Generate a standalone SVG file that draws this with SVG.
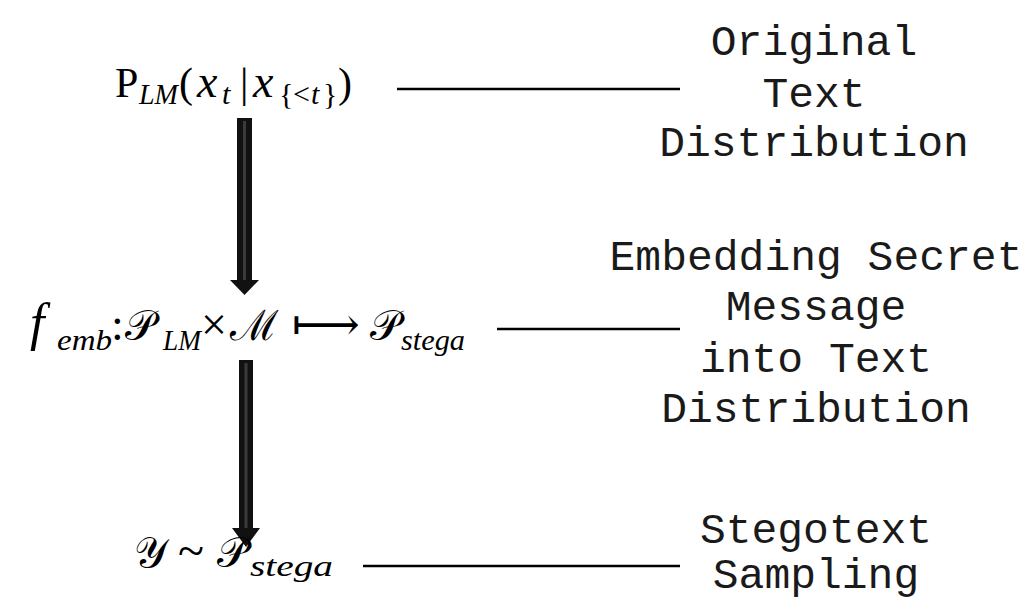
<svg xmlns="http://www.w3.org/2000/svg" width="1031" height="601" viewBox="0 0 1031 601">
<style>
.m{font-family:"Liberation Serif","DejaVu Serif",serif;fill:#000}
.i{font-style:italic}
.s{font-size:30px;font-style:italic}
.u{font-size:30px}
.sc{font-size:42px}
.lbl{font-family:"Liberation Mono","DejaVu Sans Mono",monospace;font-size:43px;fill:#1a1a1a;text-anchor:middle}
.ln{stroke:#000;stroke-width:2.5}
.shaft{fill:#111}
.hl{stroke:#3a3a3a;stroke-width:3}
</style>
<rect width="1031" height="601" fill="#fff"/>
<g id="connectors">
<line class="ln" x1="397" y1="89" x2="680" y2="89"/>
<line class="ln" x1="497" y1="329" x2="680" y2="329"/>
<line class="ln" x1="363" y1="566" x2="680" y2="566"/>
<path class="shaft" d="M237,118 H252 V280 H259 L244.5,295 L230,280 H237 Z"/>
<line class="hl" x1="244.5" y1="121" x2="244.5" y2="280"/>
<path class="shaft" d="M239,360 H253 V528 H260 L246,547 L232,528 H239 Z"/>
<line class="hl" x1="246" y1="363" x2="246" y2="528"/>
</g>
<g id="node-plm">
<text class="m" y="97" font-size="42"><tspan x="115">P</tspan><tspan class="s" x="139" y="104" textLength="39" lengthAdjust="spacingAndGlyphs">LM</tspan><tspan x="179" y="97">(</tspan><tspan class="i" x="197" font-size="46">x</tspan><tspan class="s" x="222" y="104">t</tspan><tspan x="240" y="97">|</tspan><tspan class="i" x="253" font-size="46">x</tspan><tspan class="u" x="279" y="104">{</tspan><tspan class="u" x="293" y="104">&lt;</tspan><tspan class="s" x="311" y="104">t</tspan><tspan class="u" x="323" y="104">}</tspan><tspan x="338" y="97">)</tspan></text>
</g>
<g id="node-femb">
<text class="m" y="340" font-size="46"><tspan class="i" x="30" font-size="52">f</tspan><tspan class="s" font-size="32" x="57" y="350" textLength="55" lengthAdjust="spacingAndGlyphs">emb</tspan><tspan x="111" y="340">:</tspan><tspan class="sc" x="125">𝒫</tspan><tspan class="s" font-size="32" x="163" y="350" textLength="38" lengthAdjust="spacingAndGlyphs">LM</tspan><tspan x="201" y="340">×</tspan><tspan class="sc" x="230">ℳ</tspan><tspan x="292" textLength="68" lengthAdjust="spacingAndGlyphs">⟼</tspan><tspan class="sc" x="370">𝒫</tspan><tspan class="s" font-size="32" x="401" y="350" textLength="64" lengthAdjust="spacingAndGlyphs">stega</tspan></text>
</g>
<g id="node-y">
<text class="m" y="567" font-size="44"><tspan class="sc" x="134">𝒴</tspan><tspan x="178" font-size="48">~</tspan><tspan class="sc" x="217">𝒫</tspan><tspan class="s" font-size="32" x="250" y="576" textLength="83" lengthAdjust="spacingAndGlyphs">stega</tspan></text>
</g>
<g id="label-orig">
<text class="lbl" x="814" y="55">Original</text>
<text class="lbl" x="814" y="107">Text</text>
<text class="lbl" x="814" y="156">Distribution</text>
</g>
<g id="label-embed">
<text class="lbl" x="816" y="270">Embedding Secret</text>
<text class="lbl" x="816" y="320">Message</text>
<text class="lbl" x="816" y="372">into Text</text>
<text class="lbl" x="816" y="422">Distribution</text>
</g>
<g id="label-steg">
<text class="lbl" x="816" y="543">Stegotext</text>
<text class="lbl" x="816" y="588">Sampling</text>
</g>
</svg>
